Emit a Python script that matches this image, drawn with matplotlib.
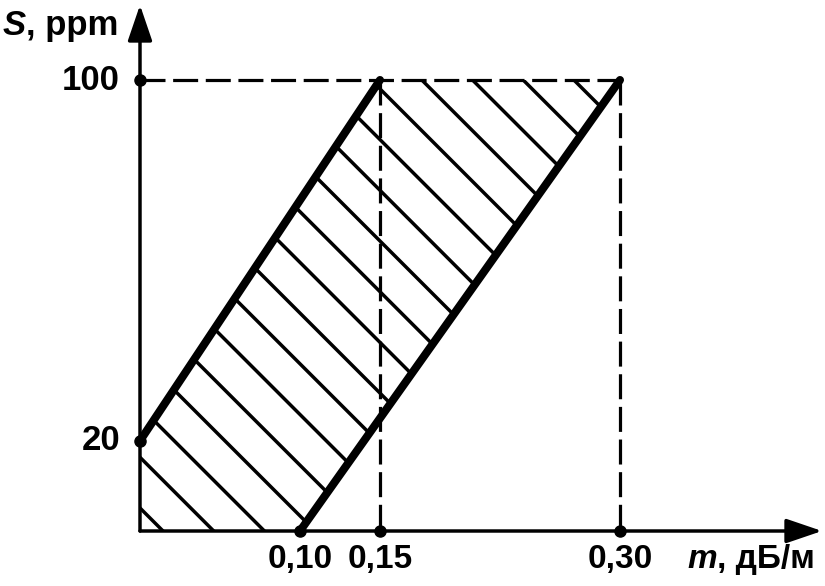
import matplotlib
matplotlib.use("Agg")

import matplotlib.pyplot as plt
import numpy as np
from matplotlib.patches import Polygon

plt.rcParams['font.family'] = ['Liberation Sans', 'DejaVu Sans']
plt.rcParams['lines.scale_dashes'] = False

# zone boundaries: S (ppm) against m (dB/m)
left_m = [0.0, 0.15]
left_s = [20, 100]
right_m = [0.10, 0.30]
right_s = [0, 100]

s_max = 100
m_max = 0.30

s_ticks = [20, 100]
s_tick_labels = ['20', '100']
m_ticks = [0.10, 0.15, 0.30]
m_tick_labels = ['0,10', '0,15', '0,30']

# figure in pixel-ish layout
W, H = 825, 586
fig = plt.figure(figsize=(W / 100, H / 100), dpi=100)
ax = fig.add_axes([0, 0, 1, 1])
ax.axis('off')

x0_px, xscale = 140, 1600.0   # pixel of m=0, px per unit m
y0_px, yscale = 531, 4.51     # pixel (from top) of S=0, px per ppm
xlim = (-x0_px / xscale, (W - x0_px) / xscale)
ylim = (-(H - y0_px) / yscale, y0_px / yscale)
ax.set_xlim(*xlim)
ax.set_ylim(*ylim)

# hatched zone
zone = [(0, 0), (left_m[0], left_s[0]), (left_m[1], left_s[1]),
        (right_m[1], right_s[1]), (right_m[0], right_s[0])]
poly = Polygon(zone, closed=True, facecolor='none', edgecolor='none')
ax.add_patch(poly)

# 45 deg hatch lines (in pixels), ~51 px apart
slope = -xscale / yscale
step = 50.7 / xscale
start = (163 - x0_px) / xscale
ys = np.array([-20, 130])
for c in np.arange(start - 20 * step, start + 25 * step, step):
    xs = c + ys / slope
    ln, = ax.plot(xs, ys, color='black', lw=2.5, solid_capstyle='butt', zorder=2)
    ln.set_clip_path(poly)

# dashed guide lines
dash = dict(color='black', lw=2.3, linestyle=(0, (18, 5.5)), zorder=3)
ax.plot([0, m_max], [s_max, s_max], **dash)
ax.plot([m_ticks[1], m_ticks[1]], [s_max, 0], **dash)
ax.plot([m_ticks[2], m_ticks[2]], [s_max, 0], **dash)

# thick boundaries
ax.plot(left_m, left_s, color='black', lw=5.8, solid_capstyle='round', zorder=4)
ax.plot(right_m, right_s, color='black', lw=5.8, solid_capstyle='round', zorder=4)

# axes with arrows
arrow = dict(arrowstyle='-|>,head_length=2.2,head_width=0.75', color='black',
             lw=2.5, shrinkA=0, shrinkB=0, mutation_scale=10)
ax.annotate('', xy=(0, (y0_px - 5) / yscale), xytext=(0, 0), arrowprops=arrow, zorder=5)
ax.annotate('', xy=((822 - x0_px) / xscale, 0), xytext=(0, 0), arrowprops=arrow, zorder=5)

# points
ax.plot([0] * len(s_ticks), s_ticks, 'o', color='black', ms=8, zorder=6)
ax.plot(m_ticks, [0] * len(m_ticks), 'o', color='black', ms=8, zorder=6)

# tick labels
for s, lab in zip(s_ticks, s_tick_labels):
    ax.text(-20 / xscale, s, lab, ha='right', va='center', fontsize=25,
            fontweight='bold')
for m, lab in zip(m_ticks, m_tick_labels):
    ax.text(m, -13 / yscale, lab, ha='center', va='top', fontsize=24,
            fontweight='bold')

# axis titles (italic symbol + bold unit)
ty = ax.text(-22 / xscale, (y0_px - 35) / yscale, ', ppm', ha='right',
             va='baseline', fontsize=25, fontweight='bold')
ax.annotate('S', xy=(0, 0), xycoords=ty, ha='right', va='bottom', fontsize=25,
            fontweight='bold', fontstyle='italic')
tx = ax.text((815 - x0_px) / xscale, -13 / yscale, ', дБ/м', ha='right', va='top',
             fontsize=24, fontweight='bold')
ax.annotate('m', xy=(0, 0), xycoords=tx, ha='right', va='bottom', fontsize=24,
            fontweight='bold', fontstyle='italic')

fig.savefig('out.png', dpi=100)
